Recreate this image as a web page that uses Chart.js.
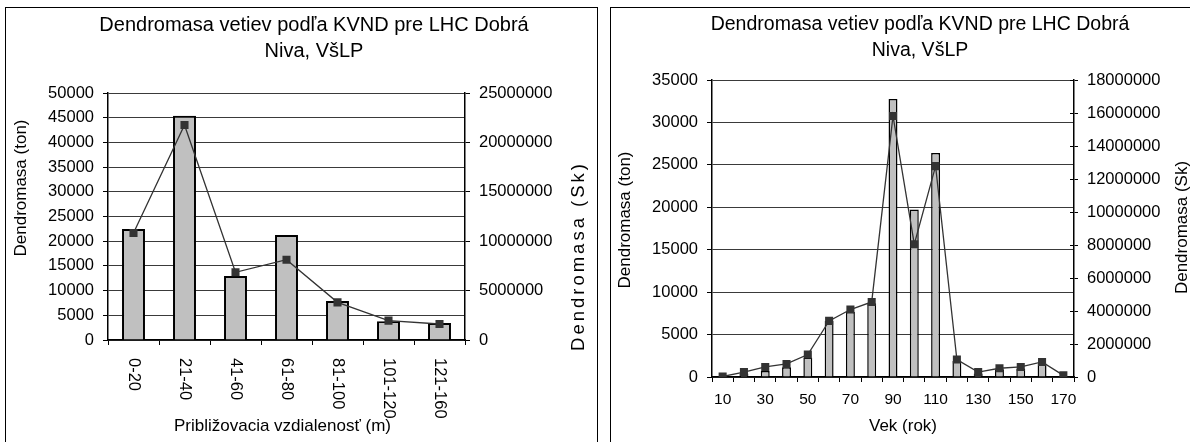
<!DOCTYPE html>
<html>
<head>
<meta charset="utf-8">
<script src="https://cdn.jsdelivr.net/npm/chart.js@4.4.0/dist/chart.umd.min.js"></script>
<style>
  html, body { margin: 0; padding: 0; background: #fff; overflow: hidden; width: 1190px; height: 442px; }
  .panel { position: absolute; border: 1px solid #000; background: #fff; }
  #p1 { left: 5px; top: 7px; width: 591px; height: 440px; }
  #p2 { left: 610px; top: 7px; width: 600px; height: 440px; }
  canvas { display: block; }
</style>
</head>
<body>
<div class="panel" id="p1"><canvas id="c1" width="591" height="434"></canvas></div>
<div class="panel" id="p2"><canvas id="c2" width="580" height="434"></canvas></div>
<script>
const FONT = '"Liberation Sans", Arial, Helvetica, sans-serif';
const titleLines = ['Dendromasa vetiev podľa KVND pre LHC Dobrá', 'Niva, VšLP'];

// Branch biomass by skidding distance class
const distanceClasses = ['0-20', '21-40', '41-60', '61-80', '81-100', '101-120', '121-160'];
const distanceTons = [22450, 45400, 12950, 21250, 7900, 3800, 3450];
const distanceSk = [10830000, 21760000, 6850000, 8130000, 3810000, 1960000, 1620000];
const distanceTonTicks = [0, 5000, 10000, 15000, 20000, 25000, 30000, 35000, 40000, 45000, 50000];
const distanceSkTicks = [0, 5000000, 10000000, 15000000, 20000000, 25000000];

// Branch biomass by stand age
const ageClasses = ['10', '20', '30', '40', '50', '60', '70', '80', '90', '100', '110', '120', '130', '140', '150', '160', '170'];
const ageTons = [60, 400, 720, 1150, 2300, 6600, 7700, 8700, 32750, 19750, 26400, 1900, 400, 900, 1000, 1600, 100];
const ageSk = [30000, 300000, 610000, 790000, 1360000, 3400000, 4090000, 4550000, 15820000, 8050000, 12780000, 1060000, 300000, 530000, 610000, 910000, 100000];
const ageTonTicks = [0, 5000, 10000, 15000, 20000, 25000, 30000, 35000];
const ageSkTicks = [0, 2000000, 4000000, 6000000, 8000000, 10000000, 12000000, 14000000, 16000000, 18000000];
const ageLabelStep = 2;

const GRID = '#3a3a3a';

// Axis captions, vertical category labels and crossing tick marks
const excelText = {
  id: 'excelText',
  afterDraw(chart, args, opts) {
    const { ctx, chartArea: a } = chart;
    ctx.save();
    ctx.fillStyle = '#000';
    (opts.captions || []).forEach(c => {
      ctx.save();
      ctx.font = `${c.size}px ${FONT}`;
      ctx.letterSpacing = (c.spacing || 0) + 'px';
      ctx.translate(a.left + c.dx, a.top + c.dy);
      ctx.rotate((c.rotation || 0) * Math.PI / 180);
      ctx.textAlign = 'center';
      ctx.textBaseline = 'middle';
      ctx.fillText(c.text, 0, 0);
      ctx.restore();
    });
    if (opts.verticalTicks) {
      const vt = opts.verticalTicks;
      const s = chart.scales[vt.scale];
      ctx.font = `${vt.size}px ${FONT}`;
      chart.data.labels.forEach((lab, i) => {
        ctx.save();
        ctx.translate(s.getPixelForTick(i), a.bottom + vt.gap);
        ctx.rotate(Math.PI / 2);
        ctx.textAlign = 'left';
        ctx.textBaseline = 'middle';
        ctx.fillText(lab, 0, 0);
        ctx.restore();
      });
    }
    if (opts.crossTicks) {
      const ct = opts.crossTicks;
      const s = chart.scales[ct.scale];
      ctx.strokeStyle = '#000';
      ctx.lineWidth = 1;
      s.ticks.forEach((t, i) => {
        const y = Math.round(s.getPixelForTick(i)) + 0.5;
        ctx.beginPath();
        ctx.moveTo(s.left - ct.length, y);
        ctx.lineTo(s.left, y);
        ctx.stroke();
      });
    }
    ctx.restore();
  }
};

function fixedTicks(values) {
  return scale => { scale.ticks = values.map(v => ({ value: v })); };
}

function titleOptions(size, bottom) {
  return {
    display: true, text: titleLines, color: '#000',
    font: { family: FONT, size: size, weight: 'normal', lineHeight: 26 / size },
    padding: { top: 0, bottom: bottom }
  };
}

function valueAxis(position, max, values, width, tickLen, gridOnArea) {
  return {
    type: 'linear', position: position, min: 0, max: max,
    afterBuildTicks: fixedTicks(values),
    afterFit: s => { s.width = width; },
    grid: { drawOnChartArea: gridOnArea, color: GRID, lineWidth: 1, drawTicks: true, tickLength: tickLen, tickColor: '#000', tickWidth: 1 },
    border: { display: true, color: '#000', width: 1.5 },
    ticks: { color: '#000', font: { family: FONT, size: 16.5 }, padding: 9, callback: v => String(v) }
  };
}

// Chart 1: skidding distance
new Chart(document.getElementById('c1'), {
  type: 'bar',
  data: {
    labels: distanceClasses,
    datasets: [
      { type: 'line', data: distanceSk, yAxisID: 'y1', order: 1,
        borderColor: '#333', borderWidth: 1.3, tension: 0,
        pointStyle: 'rect', pointRadius: 5.7, pointBackgroundColor: '#333', pointBorderColor: '#333', pointBorderWidth: 0 },
      { type: 'bar', data: distanceTons, yAxisID: 'y', order: 2,
        backgroundColor: '#c0c0c0', borderColor: '#000', borderWidth: 2,
        barPercentage: 0.45, categoryPercentage: 1 }
    ]
  },
  options: {
    responsive: false, animation: false, devicePixelRatio: 1,
    layout: { padding: { left: 25, right: 0, top: 4, bottom: 0 } },
    plugins: {
      legend: { display: false }, tooltip: { enabled: false },
      title: titleOptions(20, 29),
      excelText: {
        captions: [
          { text: 'Dendromasa (ton)', size: 17, dx: -86.5, dy: 95, rotation: -90 },
          { text: 'Dendromasa (Sk)', size: 18.5, spacing: 3, dx: 471, dy: 163, rotation: -90 },
          { text: 'Približovacia vzdialenosť (m)', size: 17, dx: 174.5, dy: 333 }
        ],
        verticalTicks: { scale: 'x', gap: 18, size: 16.5 }
      }
    },
    scales: {
      x: {
        type: 'category', offset: true,
        afterFit: s => { s.height = 102; },
        grid: { offset: true, drawOnChartArea: false, drawTicks: true, tickLength: 5, tickColor: '#000', tickWidth: 1 },
        border: { display: true, color: '#000', width: 1.5 },
        ticks: { display: false }
      },
      y: valueAxis('left', 50000, distanceTonTicks, 77, 5, true),
      y1: valueAxis('right', 25000000, distanceSkTicks, 132, 5, false)
    }
  },
  plugins: [excelText]
});

// Chart 2: stand age
new Chart(document.getElementById('c2'), {
  type: 'bar',
  data: {
    labels: ageClasses,
    datasets: [
      { type: 'line', data: ageSk, yAxisID: 'y1', order: 1,
        borderColor: '#333', borderWidth: 1.3, tension: 0,
        pointStyle: 'rect', pointRadius: 5.7, pointBackgroundColor: '#333', pointBorderColor: '#333', pointBorderWidth: 0 },
      { type: 'bar', data: ageTons, yAxisID: 'y', order: 2,
        backgroundColor: '#c0c0c0', borderColor: '#000', borderWidth: 1.5,
        barPercentage: 0.42, categoryPercentage: 1 }
    ]
  },
  options: {
    responsive: false, animation: false, devicePixelRatio: 1,
    layout: { padding: { left: 38, right: 0, top: 4, bottom: 0 } },
    plugins: {
      legend: { display: false }, tooltip: { enabled: false },
      title: titleOptions(19.5, 16),
      excelText: {
        captions: [
          { text: 'Dendromasa (ton)', size: 17, dx: -86.5, dy: 140, rotation: -90 },
          { text: 'Dendromasa (Sk)', size: 17, dx: 470, dy: 147.5, rotation: -90 },
          { text: 'Vek (rok)', size: 17, dx: 191, dy: 346.5 }
        ],
        crossTicks: { scale: 'y1', length: 4 }
      }
    },
    scales: {
      x: {
        type: 'category', offset: true,
        afterFit: s => { s.height = 65; },
        grid: { offset: true, drawOnChartArea: false, drawTicks: true, tickLength: 5, tickColor: '#000', tickWidth: 1 },
        border: { display: true, color: '#000', width: 1.5 },
        ticks: { color: '#000', font: { family: FONT, size: 15.5 }, padding: 8, autoSkip: false, maxRotation: 0, minRotation: 0,
                 callback: (v, i) => (i % ageLabelStep === 0 ? ageClasses[i] : '') }
      },
      y: valueAxis('left', 35000, ageTonTicks, 63, 5, true),
      y1: valueAxis('right', 18000000, ageSkTicks, 117, 4, false)
    }
  },
  plugins: [excelText]
});
</script>
</body>
</html>
